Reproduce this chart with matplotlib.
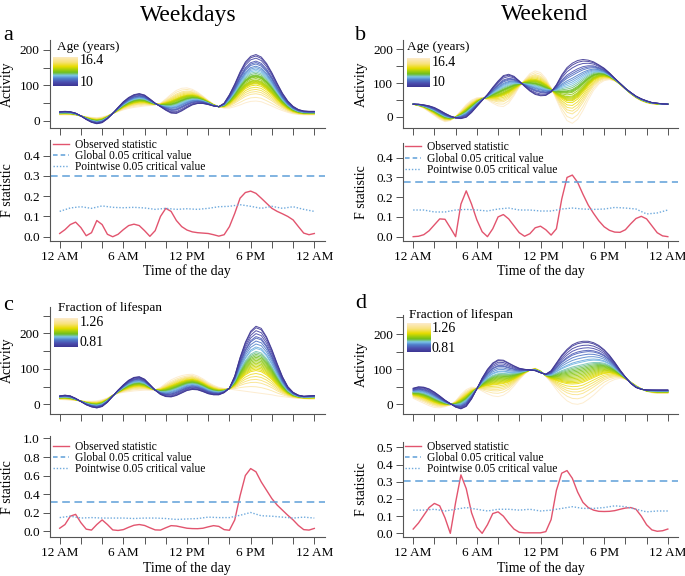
import numpy as np
import matplotlib
matplotlib.use('Agg')
import matplotlib.pyplot as plt
from matplotlib.colors import LinearSegmentedColormap
from matplotlib.lines import Line2D
from matplotlib.ticker import MultipleLocator, FuncFormatter, FormatStrFormatter

plt.rcParams['font.family'] = ['Liberation Serif', 'DejaVu Serif']

# ------------------------------------------------------------------
# Data
# ------------------------------------------------------------------
hours = np.linspace(0, 24, 49)          # half-hour grid
hours_hourly = np.arange(25)            # grid of the pointwise critical values

ages = [10.0, 10.2, 10.5, 10.9, 11.1, 11.3, 11.6, 11.8, 12.0, 12.2, 12.4, 12.6, 12.8, 12.9, 13.0,
        13.1, 13.3, 13.5, 13.6, 13.7, 13.8, 13.9, 14.0, 14.2, 14.5, 14.8, 15.1, 15.4, 15.9, 16.4]
fractions = [0.81, 0.82, 0.84, 0.86, 0.88, 0.89, 0.91, 0.93, 0.95, 0.96, 0.98, 0.99, 1.00, 1.01, 1.02,
             1.03, 1.04, 1.05, 1.06, 1.07, 1.08, 1.09, 1.10, 1.11, 1.13, 1.15, 1.17, 1.19, 1.22, 1.26]

# fitted activity at the lowest (young) and highest (old) covariate value
act_a_young = [26, 27, 26, 22, 14, 4, -4, -8, -5, 6, 21, 38, 54, 66, 74, 77, 73, 62, 50, 40, 30, 22, 21, 28, 37,
               45, 49, 49, 46, 42, 40, 50, 74, 104, 138, 166, 182, 187, 180, 162, 136, 106, 78, 56, 41, 32, 28, 27, 27]
act_a_old = [17, 17, 17, 16, 14, 12, 10, 9, 11, 15, 21, 26, 31, 35, 38, 40, 42, 43, 45, 50, 62, 75, 86, 92, 93,
             89, 81, 70, 58, 47, 40, 36, 36, 40, 45, 51, 55, 56, 54, 48, 42, 35, 29, 24, 20, 18, 17, 17, 17]
act_b_young = [37, 37, 35, 32, 27, 19, 10, 2, -4, -6, -2, 12, 30, 48, 66, 87, 106, 122, 126, 120, 106, 90, 76, 66, 62,
               63, 73, 95, 124, 146, 159, 167, 170, 168, 163, 154, 144, 130, 114, 99, 84, 72, 61, 53, 47, 42, 40, 38, 37]
act_b_old = [37, 32, 25, 14, 3, -8, -15, -12, 0, 18, 36, 49, 56, 57, 50, 40, 32, 30, 40, 62, 88, 110, 128, 136, 131,
             114, 86, 50, 15, -12, -20, -8, 18, 50, 78, 97, 107, 110, 106, 96, 82, 68, 56, 47, 41, 38, 37, 37, 37]
act_c_young = [24, 26, 24, 17, 8, -1, -7, -10, -6, 6, 23, 40, 55, 68, 76, 78, 71, 56, 40, 28, 22, 21, 25, 32, 39,
               42, 41, 36, 30, 27, 27, 33, 46, 80, 132, 175, 206, 220, 214, 190, 155, 115, 78, 50, 34, 26, 23, 24, 25]
act_c_old = [14, 13, 12, 11, 10, 9, 9, 10, 13, 18, 26, 31, 34, 36, 38, 39, 40, 40, 41, 48, 59, 69, 76, 81, 84,
             85, 80, 72, 62, 54, 48, 45, 43, 41, 39, 37, 35, 33, 31, 29, 27, 24, 22, 20, 18, 17, 16, 15, 15]
act_d_young = [46, 50, 49, 44, 35, 24, 12, 2, -8, -13, -6, 15, 44, 75, 100, 118, 127, 126, 118, 110, 103, 100, 98, 96, 90,
               86, 96, 118, 140, 157, 170, 177, 180, 180, 176, 168, 156, 140, 120, 98, 78, 60, 48, 43, 41, 41, 41, 41, 41]
act_d_old = [17, 10, 3, -4, -9, -10, -7, -2, 10, 28, 42, 49, 46, 38, 30, 24, 22, 26, 36, 52, 70, 86, 98, 103, 96,
             80, 62, 42, 24, 10, 2, 0, 4, 14, 26, 40, 54, 64, 71, 74, 72, 64, 54, 44, 37, 33, 31, 31, 31]

# observed F statistic
f_a = [0.016, 0.035, 0.06, 0.072, 0.045, 0.005, 0.02, 0.08, 0.06, 0.012, 0.0, 0.012, 0.035, 0.055, 0.062, 0.055,
       0.03, 0.002, 0.03, 0.1, 0.14, 0.125, 0.08, 0.05, 0.033, 0.024, 0.02, 0.018, 0.016, 0.01, 0.003, 0.01,
       0.05, 0.115, 0.19, 0.218, 0.225, 0.214, 0.19, 0.165, 0.14, 0.125, 0.113, 0.1, 0.083, 0.05, 0.018, 0.01, 0.016]
f_b = [0.0, 0.002, 0.01, 0.03, 0.06, 0.09, 0.088, 0.045, 0.0, 0.165, 0.232, 0.165, 0.085, 0.025, 0.0, 0.04,
       0.1, 0.112, 0.09, 0.055, 0.02, 0.002, 0.015, 0.045, 0.053, 0.035, 0.008, 0.04, 0.19, 0.3, 0.312, 0.275,
       0.215, 0.16, 0.118, 0.08, 0.05, 0.032, 0.023, 0.022, 0.035, 0.065, 0.092, 0.103, 0.09, 0.055, 0.02, 0.004, 0.0]
f_c = [0.03, 0.07, 0.16, 0.18, 0.09, 0.02, 0.01, 0.07, 0.12, 0.07, 0.012, 0.006, 0.015, 0.04, 0.062, 0.07,
       0.06, 0.035, 0.012, 0.01, 0.035, 0.058, 0.054, 0.042, 0.03, 0.026, 0.025, 0.03, 0.045, 0.058, 0.05, 0.015,
       0.008, 0.12, 0.38, 0.6, 0.675, 0.64, 0.53, 0.44, 0.35, 0.28, 0.225, 0.17, 0.12, 0.06, 0.015, 0.01, 0.028]
f_d = [0.025, 0.06, 0.105, 0.15, 0.174, 0.16, 0.09, 0.0, 0.18, 0.34, 0.26, 0.12, 0.035, 0.0, 0.05, 0.115,
       0.125, 0.1, 0.06, 0.025, 0.006, 0.003, 0.003, 0.003, 0.003, 0.01, 0.08, 0.25, 0.35, 0.365, 0.32, 0.24,
       0.18, 0.15, 0.135, 0.128, 0.127, 0.128, 0.132, 0.14, 0.147, 0.15, 0.14, 0.1, 0.05, 0.02, 0.012, 0.015, 0.025]

# pointwise 0.05 critical values (hourly)
pw_a = [0.125, 0.142, 0.148, 0.14, 0.152, 0.145, 0.143, 0.145, 0.142, 0.135, 0.14, 0.135, 0.138,
        0.135, 0.14, 0.148, 0.15, 0.158, 0.15, 0.14, 0.15, 0.14, 0.148, 0.135, 0.125]
pw_b = [0.135, 0.135, 0.125, 0.125, 0.135, 0.138, 0.135, 0.13, 0.14, 0.145, 0.135, 0.135, 0.13,
        0.13, 0.14, 0.145, 0.14, 0.138, 0.14, 0.148, 0.145, 0.14, 0.115, 0.12, 0.135]
pw_c = [0.145, 0.16, 0.14, 0.145, 0.14, 0.14, 0.14, 0.135, 0.14, 0.14, 0.135, 0.125, 0.13,
        0.135, 0.15, 0.145, 0.145, 0.17, 0.2, 0.165, 0.16, 0.15, 0.14, 0.15, 0.14]
pw_d = [0.135, 0.135, 0.14, 0.13, 0.14, 0.15, 0.14, 0.13, 0.14, 0.14, 0.135, 0.14, 0.13,
        0.135, 0.145, 0.155, 0.145, 0.145, 0.15, 0.16, 0.155, 0.14, 0.125, 0.13, 0.13]

# global 0.05 critical values
glob_a, glob_b, glob_c, glob_d = 0.30, 0.278, 0.317, 0.304

time_labels = ['12 AM', '', '', '6 AM', '', '', '12 PM', '', '', '6 PM', '', '', '12 AM']

# ------------------------------------------------------------------
# Style
# ------------------------------------------------------------------
W, H = 685, 576
fig = plt.figure(figsize=(W / 100, H / 100), dpi=100)

cmap = LinearSegmentedColormap.from_list('agecol', [
    (0.00, '#3D3592'), (0.12, '#4B4DAE'), (0.25, '#4F7FCB'), (0.35, '#7CC6EA'),
    (0.45, '#6DBE1E'), (0.55, '#A8CF0A'), (0.65, '#E8DC00'), (0.80, '#F8E27A'),
    (1.00, '#FDEBCB')])

RED = '#E2546E'
BLUE_DASH = '#5E9FD8'
BLUE_DOT = '#6FAADD'
AXCOL = '#555555'


def px_rect(left, top, right, bottom):
    return [left / W, 1 - bottom / H, (right - left) / W, (bottom - top) / H]


def fig_text(x, y, s, **kw):
    fig.text(x / W, 1 - y / H, s, **kw)


def base_style(ax):
    for s in ['top', 'right']:
        ax.spines[s].set_visible(False)
    for s in ['left', 'bottom']:
        ax.spines[s].set_color(AXCOL)
        ax.spines[s].set_linewidth(0.8)
    ax.tick_params(direction='out', length=5, width=0.7, color=AXCOL, labelsize=9.5, pad=2)
    ax.set_xlim(-0.96, 24.96)
    ax.set_xticks(range(0, 25, 2))


def activity_panel(rect, ylim, young, old, covar):
    ax = fig.add_axes(px_rect(*rect))
    base_style(ax)
    ax.set_xticklabels([])
    lo, hi = min(covar), max(covar)
    young = np.array(young, dtype=float)
    old = np.array(old, dtype=float)
    # oldest first so the younger curves sit on top
    for c in sorted(covar, reverse=True):
        w = (c - lo) / (hi - lo)
        ax.plot(hours, young + w * (old - young), color=cmap(w), lw=0.7, alpha=0.9)
    ax.set_ylim(*ylim)
    ax.yaxis.set_major_locator(MultipleLocator(50))
    ax.yaxis.set_major_formatter(FuncFormatter(lambda v, p: '%d' % v if v % 100 == 0 else ''))
    ax.set_ylabel('Activity', fontsize=10)
    ax.yaxis.set_label_coords(-0.129, 0.5)
    return ax


def fstat_panel(rect, ylim, ystep, obs, pw, glob, leg_xy):
    ax = fig.add_axes(px_rect(*rect))
    base_style(ax)
    ax.set_xticklabels(time_labels)
    ax.plot(hours, obs, color=RED, lw=1.0)
    ax.axhline(glob, color=BLUE_DASH, lw=1.1, dashes=(5, 3))
    ax.plot(hours_hourly, pw, color=BLUE_DOT, lw=1.0, ls=(0, (1, 1.3)))
    ax.set_ylim(*ylim)
    ax.yaxis.set_major_locator(MultipleLocator(ystep))
    ax.yaxis.set_major_formatter(FormatStrFormatter('%.1f'))
    ax.set_ylabel('F statistic', fontsize=10)
    ax.yaxis.set_label_coords(-0.129, 0.5)
    handles = [Line2D([], [], color=RED, lw=1.0),
               Line2D([], [], color=BLUE_DASH, lw=1.1, dashes=(3, 2)),
               Line2D([], [], color=BLUE_DOT, lw=1.0, ls=(0, (1, 1.3)))]
    labels = ['Observed statistic', 'Global 0.05 critical value', 'Pointwise 0.05 critical value']
    ax.legend(handles, labels, loc='upper left', frameon=False, fontsize=8.3,
              bbox_to_anchor=(leg_xy[0] / W, 1 - leg_xy[1] / H), bbox_transform=fig.transFigure,
              borderpad=0, borderaxespad=0, handlelength=1.4, handletextpad=0.5, labelspacing=-0.08)
    fig_text(rect[0] + (rect[2] - rect[0]) / 2, rect[3] + 30.5, 'Time of the day',
             fontsize=10, ha='center', va='center')
    return ax


def gradient_key(rect, title, top_label, bottom_label, title_xy, top_y, bottom_y):
    kax = fig.add_axes(px_rect(*rect))
    kax.imshow(np.linspace(1, 0, 120).reshape(-1, 1), cmap=cmap, aspect='auto',
               vmin=0, vmax=1, interpolation='bilinear')
    kax.set_axis_off()
    fig_text(title_xy[0], title_xy[1], title, fontsize=9.5, ha='left', va='center')
    fig_text(rect[2] + 2, top_y, top_label, fontsize=10, ha='left', va='center')
    fig_text(rect[2] + 2, bottom_y, bottom_label, fontsize=10, ha='left', va='center')


# ------------------------------------------------------------------
# Panels
# ------------------------------------------------------------------
activity_panel((49.5, 40, 324.5, 128), (-20, 228), act_a_young, act_a_old, ages)
activity_panel((403, 40, 678, 127.7), (-33, 228), act_b_young, act_b_old, ages)
activity_panel((49.5, 306.7, 324.5, 414), (-27, 275), act_c_young, act_c_old, fractions)
activity_panel((403, 315, 678, 414.3), (-28.5, 255), act_d_young, act_d_old, fractions)

fstat_panel((49.5, 140, 324.5, 241), (-0.021, 0.477), 0.1, f_a, pw_a, glob_a, (53, 139))
fstat_panel((403, 143.3, 678, 241), (-0.022, 0.473), 0.1, f_b, pw_b, glob_b, (405, 141.5))
fstat_panel((49.5, 436, 324.5, 537.3), (-0.068, 1.027), 0.2, f_c, pw_c, glob_c, (53, 441))
fstat_panel((403, 441.7, 678, 537.3), (-0.023, 0.533), 0.1, f_d, pw_d, glob_d, (405, 441))

gradient_key((53, 56.7, 77.5, 86), 'Age (years)', '16.4', '10', (57, 47), 61, 83)
gradient_key((406.7, 58.3, 429.5, 87.3), 'Age (years)', '16.4', '10', (406.7, 47), 63, 83)
gradient_key((54, 318.3, 78, 347.3), 'Fraction of lifespan', '1.26', '0.81', (58, 308), 323, 343)
gradient_key((406.7, 323.3, 430, 351.7), 'Fraction of lifespan', '1.26', '0.81', (409, 315), 329, 349)

# column titles and panel letters
fig_text(188, 15, 'Weekdays', fontsize=17, ha='center', va='center')
fig_text(545, 15, 'Weekend', fontsize=17, ha='center', va='center')
for letter, x, y in [('a', 8, 35), ('b', 361, 36), ('c', 8, 305), ('d', 361, 303)]:
    fig_text(x, y, letter, fontsize=16, ha='center', va='center')

fig.savefig('out.png', dpi=100, facecolor='white')
